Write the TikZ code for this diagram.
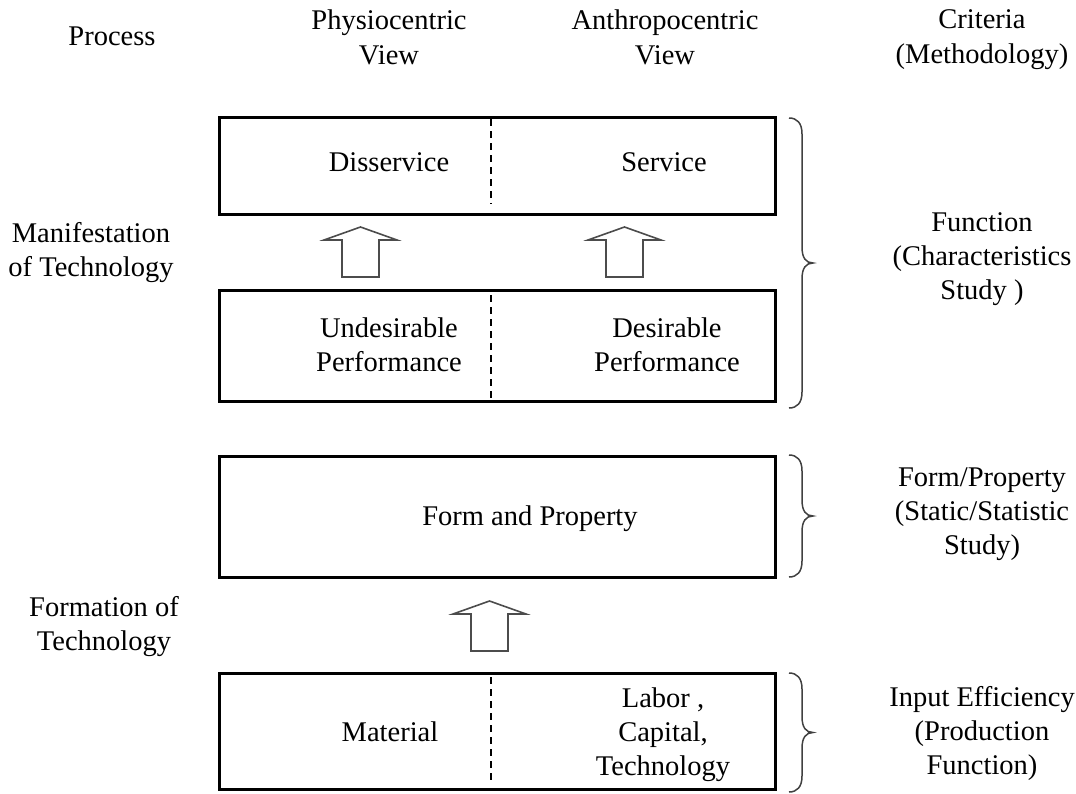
\documentclass[tikz,border=0pt]{standalone}
\usepackage{fontspec}
\setmainfont{Liberation Serif}

% right-hand curly brace between two heights, tip at the middle
\newcommand\sidebrace[2]{%
  \pgfmathsetmacro\bmid{(#1+#2)/2}%
  \draw[bracestyle] (789,#1) .. controls (797,#1) and (802,#1+5) .. (802,#1+16)
    -- (802,\bmid-16) .. controls (802,\bmid-5) and (806,\bmid) .. (813,\bmid)
    .. controls (806,\bmid) and (802,\bmid+5) .. (802,\bmid+16)
    -- (802,#2-16) .. controls (802,#2-5) and (797,#2) .. (789,#2);%
}

\begin{document}
\begin{tikzpicture}[x=1pt,y=-1pt,
  box/.style={draw, line width=3pt, minimum width=556pt, inner sep=0pt, outer sep=0pt},
  lbl/.style={font=\fontsize{28.5}{34}\selectfont, align=center, inner sep=0pt},
  head/.style={font=\fontsize{28.5}{35.5}\selectfont, align=center, inner sep=0pt},
  divider/.style={line width=1.5pt, dash pattern=on 7pt off 5pt},
  bracestyle/.style={draw=black!75, line width=1.5pt},
  blockarrow/.pic={
    \draw[draw=black!70, line width=1.6pt, fill=white, line join=miter]
      (-18.5,0) -- (18.5,0) -- (18.5,-37) -- (36.5,-37) -- (0,-50)
      -- (-36.5,-37) -- (-18.5,-37) -- cycle;}
]
\path[use as bounding box] (0,0) rectangle (1076,793);

% column headings
\node[head] (process) at (112,36.5) {Process};
\node[head] (physio)  at (389,37.5) {Physiocentric\\View};
\node[head] (anthro)  at (665,37.5) {Anthropocentric\\View};
\node[head] (criteria) at (982,39.5) {Criteria\\(Methodology)};

% the four stacked boxes
\node[box, minimum height=97pt]  (svc)  at (497,165.5) {};
\node[box, minimum height=111pt] (perf) at (497,345.5) {};
\node[box, minimum height=121pt] (form) at (497,516.5) {};
\node[box, minimum height=116pt] (input) at (497,731) {};

% dashed dividers between the two views
\draw[divider] (491,119) -- (491,204);
\draw[divider] (491,295) -- (491,400);
\draw[divider] (491,677) -- (491,783);

% box contents
\node[lbl] (dis)  at (389,162) {Disservice};
\node[lbl] (ser)  at (664,162) {Service};
\node[lbl] (undes) at (389,344.5) {Undesirable\\Performance};
\node[lbl] (des)  at (667,344.5) {Desirable\\Performance};
\node[lbl] (fp)   at (530,519) {Form and Property};
\node[lbl] (mat)  at (390,732) {Material};
\node[lbl] (lab)  at (663,735) {Labor ,\\Capital,\\Technology};

% process labels
\node[lbl] (manif) at (91,253) {Manifestation\\of Technology};
\node[lbl] (formt) at (104,626.5) {Formation of\\Technology};

% block arrows
\pic at (360.5,277) {blockarrow};
\pic at (624.5,277) {blockarrow};
\pic at (489.5,651) {blockarrow};

% braces
\sidebrace{118}{408}
\sidebrace{455}{577}
\sidebrace{673}{792}

% criteria labels
\node[lbl] (func)  at (982,259) {Function\\(Characteristics\\Study )};
\node[lbl] (fprop) at (982,514.5) {Form/Property\\(Static/Statistic\\Study)};
\node[lbl] (ineff) at (982,733.5) {Input Efficiency\\(Production\\Function)};
\end{tikzpicture}
\end{document}
